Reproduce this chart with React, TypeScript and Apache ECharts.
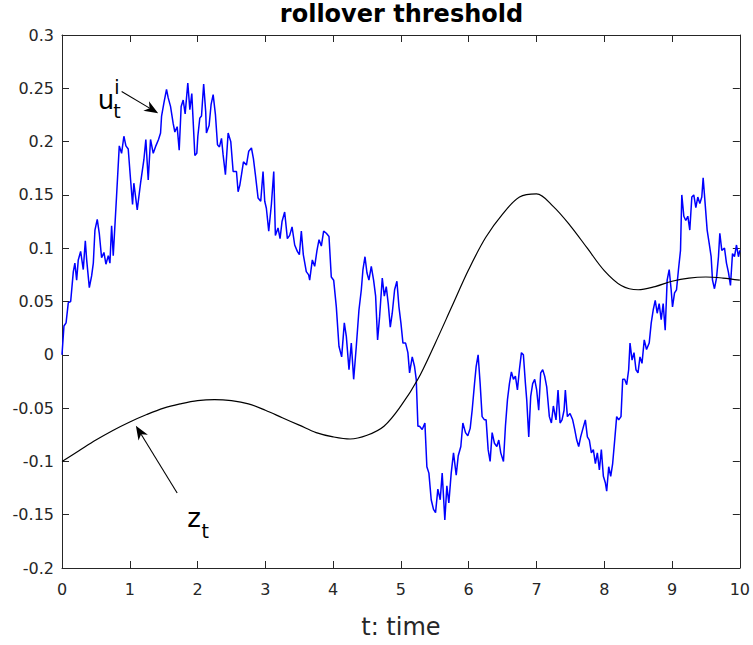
import React, { useEffect, useRef } from "react";
import * as echarts from "echarts";

const FONT = "DejaVu Sans";
const AXIS_COLOR = "#262626";

const titleText = "rollover threshold";
const xAxisName = "t: time";

// noisy blue path u_t^i : [t, value]
const uPoints: [number, number][] = [
  [0, 0], [0.029, 0.027], [0.06, 0.03], [0.093, 0.049], [0.128, 0.05], [0.167, 0.078], [0.19, 0.086],
  [0.216, 0.07], [0.24, 0.089], [0.275, 0.097], [0.314, 0.08], [0.344, 0.107], [0.364, 0.089],
  [0.403, 0.063], [0.437, 0.074], [0.462, 0.086], [0.486, 0.117], [0.52, 0.127], [0.55, 0.114],
  [0.584, 0.091], [0.619, 0.096], [0.648, 0.085], [0.683, 0.093], [0.707, 0.086], [0.732, 0.121],
  [0.756, 0.093], [0.805, 0.149], [0.845, 0.196], [0.879, 0.189], [0.913, 0.205], [0.943, 0.196],
  [0.977, 0.193], [1.012, 0.164], [1.041, 0.141], [1.06, 0.161], [1.11, 0.136], [1.159, 0.161],
  [1.208, 0.183], [1.237, 0.202], [1.272, 0.164], [1.306, 0.202], [1.346, 0.189], [1.385, 0.196],
  [1.424, 0.202], [1.454, 0.208], [1.469, 0.224], [1.503, 0.236], [1.542, 0.249], [1.567, 0.241],
  [1.601, 0.233], [1.64, 0.217], [1.665, 0.209], [1.699, 0.214], [1.729, 0.192], [1.758, 0.233],
  [1.788, 0.239], [1.817, 0.226], [1.856, 0.255], [1.886, 0.23], [1.915, 0.245], [1.96, 0.187],
  [1.989, 0.189], [2.004, 0.205], [2.033, 0.222], [2.058, 0.224], [2.09, 0.254], [2.12, 0.228],
  [2.131, 0.208], [2.17, 0.215], [2.2, 0.235], [2.23, 0.244], [2.264, 0.225], [2.294, 0.197],
  [2.323, 0.195], [2.353, 0.203], [2.377, 0.1875], [2.411, 0.169], [2.451, 0.208], [2.49, 0.2],
  [2.525, 0.172], [2.574, 0.172], [2.598, 0.153], [2.623, 0.159], [2.648, 0.169], [2.677, 0.181],
  [2.721, 0.178], [2.755, 0.191], [2.795, 0.194], [2.824, 0.184], [2.853, 0.169], [2.893, 0.147],
  [2.932, 0.144], [2.966, 0.172], [2.991, 0.144], [3.015, 0.1375], [3.05, 0.116], [3.089, 0.141],
  [3.124, 0.172], [3.148, 0.112], [3.187, 0.119], [3.217, 0.109], [3.246, 0.125], [3.285, 0.134],
  [3.325, 0.109], [3.359, 0.112], [3.394, 0.12], [3.433, 0.103], [3.472, 0.097], [3.502, 0.094],
  [3.531, 0.116], [3.56, 0.094], [3.604, 0.078], [3.639, 0.075], [3.654, 0.07], [3.693, 0.089],
  [3.728, 0.083], [3.762, 0.098], [3.792, 0.108], [3.826, 0.102], [3.86, 0.116], [3.9, 0.114],
  [3.939, 0.111], [3.973, 0.073], [4.008, 0.07], [4.047, 0.045], [4.086, 0.008], [4.126, -0.002],
  [4.165, 0.03], [4.195, 0.017], [4.234, -0.014], [4.268, 0.011], [4.303, -0.023], [4.342, 0.008],
  [4.381, 0.042], [4.416, 0.061], [4.44, 0.08], [4.47, 0.092], [4.499, 0.077], [4.528, 0.07],
  [4.563, 0.083], [4.597, 0.07], [4.627, 0.055], [4.656, 0.014], [4.686, 0.036], [4.725, 0.072],
  [4.755, 0.055], [4.784, 0.064], [4.813, 0.048], [4.843, 0.026], [4.872, 0.039], [4.907, 0.061],
  [4.941, 0.069], [4.971, 0.045], [5.0, 0.03], [5.03, 0.011], [5.069, 0.011], [5.103, 0.002],
  [5.128, -0.017], [5.167, -0.002], [5.201, -0.011], [5.226, -0.023], [5.251, -0.067], [5.275, -0.067],
  [5.314, -0.07], [5.354, -0.064], [5.383, -0.105], [5.413, -0.111], [5.447, -0.136], [5.481, -0.145],
  [5.511, -0.148], [5.545, -0.126], [5.58, -0.136], [5.609, -0.111], [5.648, -0.155], [5.678, -0.123],
  [5.707, -0.139], [5.742, -0.111], [5.776, -0.092], [5.816, -0.113], [5.845, -0.095], [5.884, -0.086],
  [5.914, -0.064], [5.953, -0.073], [5.987, -0.076], [6.022, -0.069], [6.051, -0.052], [6.086, -0.027],
  [6.11, -0.011], [6.139, 0.0], [6.169, -0.027], [6.198, -0.058], [6.233, -0.061], [6.257, -0.061],
  [6.287, -0.089], [6.316, -0.1], [6.346, -0.073], [6.38, -0.083], [6.415, -0.086], [6.444, -0.08],
  [6.473, -0.092], [6.513, -0.1], [6.542, -0.067], [6.572, -0.042], [6.601, -0.027], [6.63, -0.016],
  [6.66, -0.023], [6.689, -0.02], [6.719, -0.033], [6.748, -0.014], [6.778, 0.002], [6.807, 0.0],
  [6.837, -0.027], [6.856, -0.042], [6.886, -0.077], [6.915, -0.039], [6.944, -0.027], [6.974, -0.023],
  [7.003, -0.033], [7.033, -0.052], [7.062, -0.017], [7.092, -0.014], [7.121, -0.02], [7.151, -0.03],
  [7.19, -0.058], [7.22, -0.064], [7.249, -0.048], [7.288, -0.061], [7.318, -0.033], [7.348, -0.064],
  [7.377, -0.061], [7.407, -0.052], [7.426, -0.033], [7.456, -0.058], [7.495, -0.055], [7.534, -0.061],
  [7.564, -0.07], [7.594, -0.08], [7.623, -0.086], [7.652, -0.077], [7.682, -0.07], [7.721, -0.061],
  [7.751, -0.077], [7.78, -0.08], [7.81, -0.092], [7.839, -0.089], [7.869, -0.102], [7.898, -0.092],
  [7.928, -0.108], [7.957, -0.089], [7.987, -0.114], [8.016, -0.12], [8.036, -0.128], [8.066, -0.105],
  [8.095, -0.114], [8.124, -0.102], [8.154, -0.08], [8.183, -0.058], [8.213, -0.061], [8.247, -0.058],
  [8.272, -0.023], [8.301, -0.023], [8.331, -0.028], [8.36, -0.014], [8.38, 0.011], [8.41, -0.005],
  [8.439, 0.002], [8.468, -0.014], [8.498, -0.017], [8.527, -0.002], [8.557, -0.008], [8.59, 0.014],
  [8.624, 0.005], [8.663, 0.011], [8.693, 0.03], [8.722, 0.042], [8.752, 0.051], [8.781, 0.039],
  [8.81, 0.048], [8.84, 0.033], [8.869, 0.048], [8.899, 0.023], [8.928, 0.07], [8.958, 0.08],
  [8.987, 0.061], [9.007, 0.045], [9.037, 0.058], [9.066, 0.061], [9.095, 0.08], [9.125, 0.098],
  [9.144, 0.15], [9.174, 0.13], [9.203, 0.126], [9.233, 0.13], [9.262, 0.117], [9.292, 0.148],
  [9.321, 0.15], [9.351, 0.138], [9.38, 0.148], [9.41, 0.142], [9.439, 0.148], [9.459, 0.166],
  [9.488, 0.142], [9.518, 0.117], [9.547, 0.105], [9.577, 0.092], [9.597, 0.07], [9.626, 0.062],
  [9.656, 0.072], [9.685, 0.092], [9.705, 0.114], [9.734, 0.098], [9.774, 0.1], [9.803, 0.086],
  [9.833, 0.077], [9.862, 0.065], [9.892, 0.095], [9.921, 0.092], [9.951, 0.103], [9.98, 0.092],
  [10.0, 0.098],
];

// smooth black threshold z_t
const zTimes = [
  0, 0.25, 0.5, 0.75, 1, 1.25, 1.5, 1.75, 2, 2.25, 2.5, 2.75, 3, 3.25, 3.5, 3.75, 4, 4.25, 4.5, 4.75,
  5, 5.25, 5.5, 5.75, 6, 6.25, 6.5, 6.75, 7, 7.25, 7.5, 7.75, 8, 8.25, 8.5, 8.75, 9, 9.25, 9.5, 9.75, 10,
];
const zValues = [
  -0.1, -0.09, -0.08, -0.071, -0.063, -0.056, -0.05, -0.046, -0.043, -0.042, -0.043, -0.046, -0.052,
  -0.059, -0.066, -0.073, -0.077, -0.079, -0.0755, -0.067, -0.048, -0.023, 0.01, 0.045, 0.08, 0.11,
  0.132, 0.148, 0.151, 0.139, 0.121, 0.1, 0.079, 0.065, 0.061, 0.064, 0.069, 0.072, 0.073, 0.072, 0.07,
];

// annotation anchors in data coordinates
const uArrowTail: [number, number] = [0.88, 0.247];
const uArrowTip: [number, number] = [1.419, 0.2266];
const uLabelAt: [number, number] = [0.648, 0.239];
const zArrowTail: [number, number] = [1.699, -0.1297];
const zArrowTip: [number, number] = [1.09, -0.0666];
const zLabelAt: [number, number] = [1.95, -0.1528];

function arrow(tail: number[], tip: number[]) {
  const dx = tip[0] - tail[0];
  const dy = tip[1] - tail[1];
  const len = Math.sqrt(dx * dx + dy * dy);
  const ux = dx / len;
  const uy = dy / len;
  const px = -uy;
  const py = ux;
  const L = 14;
  const W = 5.5;
  const N = 4;
  const back = [tip[0] - ux * L, tip[1] - uy * L];
  const notch = [tip[0] - ux * (L - N), tip[1] - uy * (L - N)];
  return [
    {
      type: "line",
      shape: { x1: tail[0], y1: tail[1], x2: notch[0], y2: notch[1] },
      style: { stroke: "#000", lineWidth: 1.1 },
      silent: true,
    },
    {
      type: "polygon",
      shape: {
        points: [
          [tip[0], tip[1]],
          [back[0] + px * W, back[1] + py * W],
          [notch[0], notch[1]],
          [back[0] - px * W, back[1] - py * W],
        ],
      },
      style: { fill: "#000" },
      silent: true,
    },
  ];
}

export default function App() {
  const ref = useRef<HTMLDivElement>(null);

  useEffect(() => {
    if (!ref.current) return;
    const chart = echarts.init(ref.current, undefined, { renderer: "svg" });
    const tickFmt = (v: number) => String(Math.round(v * 100) / 100);
    const axisLine = { show: true, onZero: false, lineStyle: { color: AXIS_COLOR, width: 1 } };
    const axisTick = { show: true, inside: true, length: 7, lineStyle: { color: AXIS_COLOR, width: 1 } };
    const labelStyle = { fontFamily: FONT, fontSize: 16, color: AXIS_COLOR };

    chart.setOption({
      animation: false,
      backgroundColor: "#ffffff",
      title: {
        text: titleText,
        left: 401.5,
        textAlign: "center",
        top: 2,
        padding: 0,
        textStyle: { fontFamily: FONT, fontWeight: "bold", fontSize: 24, color: "#000" },
      },
      grid: { left: 62, right: 12, top: 35, bottom: 77, containLabel: false },
      xAxis: [
        {
          type: "value",
          min: 0,
          max: 10,
          interval: 1,
          position: "bottom",
          name: xAxisName,
          nameLocation: "middle",
          nameGap: 47,
          nameTextStyle: { fontFamily: FONT, fontSize: 24, color: AXIS_COLOR },
          axisLine,
          axisTick,
          axisLabel: { ...labelStyle, margin: 13, formatter: tickFmt },
          splitLine: { show: false },
        },
        {
          type: "value",
          min: 0,
          max: 10,
          interval: 1,
          position: "top",
          axisLine,
          axisTick,
          axisLabel: { show: false },
          splitLine: { show: false },
        },
      ],
      yAxis: [
        {
          type: "value",
          min: -0.2,
          max: 0.3,
          interval: 0.05,
          position: "left",
          axisLine,
          axisTick,
          axisLabel: { ...labelStyle, margin: 8, formatter: tickFmt },
          splitLine: { show: false },
        },
        {
          type: "value",
          min: -0.2,
          max: 0.3,
          interval: 0.05,
          position: "right",
          axisLine,
          axisTick,
          axisLabel: { show: false },
          splitLine: { show: false },
        },
      ],
      series: [
        {
          name: "u",
          type: "line",
          xAxisIndex: 0,
          yAxisIndex: 0,
          data: uPoints,
          symbol: "none",
          lineStyle: { color: "#0000ff", width: 1.5 },
          z: 2,
        },
        {
          name: "z",
          type: "line",
          xAxisIndex: 0,
          yAxisIndex: 0,
          data: zTimes.map((t, i) => [t, zValues[i]]),
          smooth: 0.35,
          symbol: "none",
          lineStyle: { color: "#000000", width: 1.2 },
          z: 3,
        },
      ],
    });

    const px = (d: [number, number]) => chart.convertToPixel({ seriesIndex: 0 }, d) as number[];
    const uTail = px(uArrowTail);
    const uTip = px(uArrowTip);
    const uLab = px(uLabelAt);
    const zTail = px(zArrowTail);
    const zTip = px(zArrowTip);
    const zLab = px(zLabelAt);
    const txt = (x: number, y: number, text: string, size: number) => ({
      type: "text",
      x,
      y,
      silent: true,
      style: {
        text,
        fontFamily: FONT,
        fontSize: size,
        fill: "#000",
        align: "center",
        verticalAlign: "middle",
      },
    });

    chart.setOption({
      graphic: [
        ...arrow(uTail, uTip),
        ...arrow(zTail, zTip),
        txt(uLab[0], uLab[1], "u", 26),
        txt(uLab[0] + 11, uLab[1] - 13, "i", 19),
        txt(uLab[0] + 11, uLab[1] + 11, "t", 19),
        txt(zLab[0], zLab[1], "z", 26),
        txt(zLab[0] + 11, zLab[1] + 13, "t", 19),
      ],
    });

    return () => chart.dispose();
  }, []);

  return (
    <div
      ref={ref}
      style={{ position: "absolute", left: 0, top: 0, width: 753, height: 645, background: "#fff" }}
    />
  );
}
